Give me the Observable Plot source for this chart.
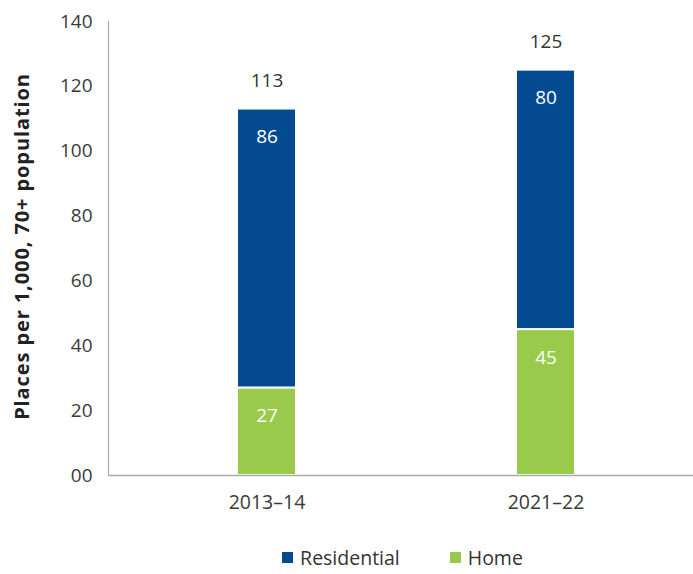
<!DOCTYPE html>
<html>
<head>
<meta charset="utf-8">
<script src="https://cdn.jsdelivr.net/npm/d3@7"></script>
<script src="https://cdn.jsdelivr.net/npm/@observablehq/plot@0.6"></script>
<style>
  body { margin: 0; background: #fff; font-family: "Open Sans", sans-serif; }
  #legend { display: flex; justify-content: center; gap: 50px; font-size: 19.5px; line-height: 1.1; color: #333; margin-left: 112px; margin-top: 4px; }
  #legend span.item { display: flex; align-items: center; gap: 7px; }
  #legend span.sw { width: 11px; height: 11px; display: inline-block; }
  .ytitle text { letter-spacing: 0.9px; }
</style>
</head>
<body>
<div id="chart"></div>
<div id="legend"></div>
<script>
const periods = ["2013–14", "2021–22"];
const series = ["Home", "Residential"];
const homeValues = [27, 45];
const residentialValues = [86, 80];
const totals = [113, 125];
const yTicks = [0, 20, 40, 60, 80, 100, 120, 140];
const colors = {"Residential": "#034a91", "Home": "#9aca4c"};

const rows = [];
periods.forEach((p, i) => {
  rows.push({period: p, series: "Home", value: homeValues[i]});
  rows.push({period: p, series: "Residential", value: residentialValues[i]});
});
const totalRows = periods.map((p, i) => ({period: p, total: totals[i]}));

const chart = Plot.plot({
  width: 693,
  height: 543,
  marginLeft: 108,
  marginRight: 0,
  marginTop: 21,
  marginBottom: 68,
  style: {fontFamily: "Open Sans, sans-serif", fontSize: "18px", color: "#3a3a3a"},
  x: {domain: periods, range: [108, 703], paddingInner: 0.789, paddingOuter: 0.4606, label: null},
  y: {domain: [0, 140], ticks: yTicks, label: null},
  color: {domain: ["Residential", "Home"], range: [colors.Residential, colors.Home]},
  marks: [
    Plot.barY(rows, {x: "period", y: "value", fill: "series", z: "series", stroke: "white", strokeWidth: 2}),
    Plot.text(rows, Plot.stackY2({x: "period", y: "value", z: "series", text: d => String(d.value), dy: 28, fill: "white", fontSize: 19})),
    Plot.text(totalRows, {x: "period", y: "total", text: d => String(d.total), dy: -28, fill: "#333", fontSize: 19}),
    Plot.axisY({ticks: yTicks, tickFormat: d => d === 0 ? "00" : String(d), tickSize: 0, tickPadding: 16, fontSize: 19, label: null}),
    Plot.axisX({tickSize: 0, tickPadding: 20, fontSize: 19.5, label: null}),
    Plot.frame({anchor: "left", stroke: "#aaa", strokeWidth: 1.2}),
    Plot.ruleY([0], {stroke: "#aaa", strokeWidth: 1.5}),
    Plot.text(["Places per 1,000, 70+ population"], {frameAnchor: "left", textAnchor: "middle", dx: -86, dy: -2, rotate: -90, fontWeight: "bold", fontSize: 20, fill: "#222", className: "ytitle"})
  ]
});
document.getElementById("chart").appendChild(chart);

const legend = document.getElementById("legend");
["Residential", "Home"].forEach(s => {
  const item = document.createElement("span");
  item.className = "item";
  const sw = document.createElement("span");
  sw.className = "sw";
  sw.style.background = colors[s];
  item.appendChild(sw);
  item.appendChild(document.createTextNode(s));
  legend.appendChild(item);
});
</script>
</body>
</html>
